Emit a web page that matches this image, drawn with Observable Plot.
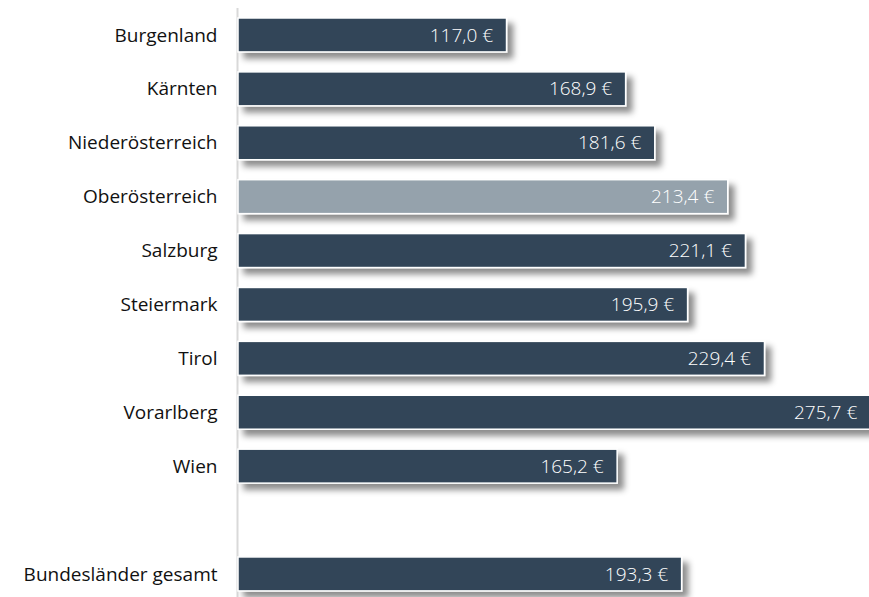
<!DOCTYPE html>
<html><head><meta charset="utf-8">
<script src="https://cdn.jsdelivr.net/npm/d3@7"></script>
<script src="https://cdn.jsdelivr.net/npm/@observablehq/plot@0.6"></script>
<style>html,body{margin:0;padding:0;background:#fff;overflow:hidden}#chart svg{display:block}</style>
</head><body><div id="chart"></div>
<script>
const regions = ["Burgenland","Kärnten","Niederösterreich","Oberösterreich","Salzburg","Steiermark","Tirol","Vorarlberg","Wien","Bundesländer gesamt"];
const values = [117.0,168.9,181.6,213.4,221.1,195.9,229.4,275.7,165.2,193.3];
const highlighted = ["Oberösterreich"];
const SPACER = " ";
const yDomain = [...regions.slice(0,9), SPACER, regions[9]];
const data = regions.map((r,i)=>({region:r, value:values[i], hl: highlighted.includes(r)}));
const fmt = v => v.toFixed(1).replace(".", ",") + " €";

const W = 869, H = 597, ML = 238;
const svg = Plot.plot({
  width: W, height: H,
  marginLeft: ML, marginRight: 0, marginTop: 8, marginBottom: 0,
  style: {fontFamily: "'Open Sans', sans-serif", fontSize: "19px", color: "#111", background: "#fff"},
  x: {domain: [0, (W - ML) / 2.295], axis: null},
  y: {domain: yDomain, range: [12.6, 596.3], paddingInner: 0.37, paddingOuter: 0.1, round: false, axis: null},
  marks: [
    Plot.ruleX([0], {stroke: "#d9d9d9", strokeWidth: 2, dx: -1}),
    Plot.barX(data, {x: "value", y: "region", fill: d => d.hl ? "#95a2ac" : "#304558", stroke: "white", strokeWidth: 1.5}),
    Plot.text(data, {x: "value", y: "region", text: d => fmt(d.value), textAnchor: "end", dx: -14, fill: "white", fontSize: 19, fontWeight: 300}),
    Plot.axisY({tickSize: 0, tickPadding: 21, fontSize: 19, label: null, tickFormat: d => d === SPACER ? "" : d})
  ]
});
const s = d3.select(svg);
const defs = s.insert("defs", ":first-child");
const f = defs.append("filter").attr("id","shadow").attr("x","-10%").attr("y","-50%").attr("width","130%").attr("height","250%");
f.append("feDropShadow").attr("dx",6).attr("dy",6).attr("stdDeviation",3).attr("flood-color","#000").attr("flood-opacity",0.45);
s.select('g[aria-label="bar"]').attr("filter","url(#shadow)");
document.getElementById("chart").appendChild(svg);
</script>
</body></html>
